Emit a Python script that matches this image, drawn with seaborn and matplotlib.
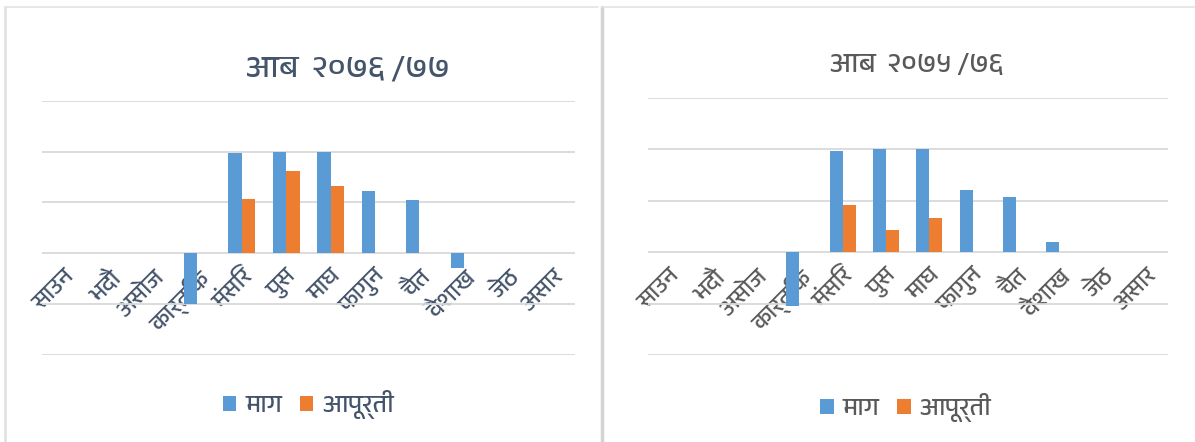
"""Monthly demand vs supply (माग / आपूर्ती) for two fiscal years, side by side."""

import numpy as np
import pandas as pd
import seaborn as sns
import matplotlib.pyplot as plt
from matplotlib import font_manager
from matplotlib.lines import Line2D
from fontTools.ttLib import TTFont

###################################################################################################
###################################################################################################

months = ['साउन', 'भदौ', 'असोज', 'कार्तिक', 'मंसिर', 'पुस',
          'माघ', 'फागुन', 'चैत', 'वैशाख', 'जेठ', 'असार']
series_names = ['माग', 'आपूर्ती']

title_7677 = 'आब  २०७६ /७७'
demand_7677 = [np.nan, np.nan, np.nan, -1.0, 1.97, 2.0, 2.0, 1.23, 1.05, -0.29, np.nan, np.nan]
supply_7677 = [np.nan, np.nan, np.nan, np.nan, 1.07, 1.61, 1.33, np.nan, np.nan, np.nan, np.nan, np.nan]

title_7576 = 'आब  २०७५ /७६'
demand_7576 = [np.nan, np.nan, np.nan, -1.05, 1.98, 2.0, 2.0, 1.22, 1.08, 0.19, np.nan, np.nan]
supply_7576 = [np.nan, np.nan, np.nan, np.nan, 0.92, 0.43, 0.66, np.nan, np.nan, np.nan, np.nan, np.nan]

grid_levels = [-2, -1, 0, 1, 2, 3]

BLUE = '#5B9BD5'
ORANGE = '#ED7D31'


def find_devanagari_font():
    """Return the name of an installed font that has Devanagari glyphs, if any."""

    fonts = sorted(font_manager.fontManager.ttflist, key=lambda f: 'Devanagari' not in f.name)
    for f in fonts:
        try:
            cmap = TTFont(f.fname, fontNumber=0, lazy=True).getBestCmap()
        except Exception:
            continue
        if cmap and 0x0906 in cmap and 0x0915 in cmap:
            return f.name
    return None


def plot_panel(ax, demand, supply, text_color):
    """Draw one grouped bar panel in the Excel-like style."""

    df = pd.DataFrame({'month': months * 2,
                       'series': [series_names[0]] * 12 + [series_names[1]] * 12,
                       'value': demand + supply})

    sns.barplot(data=df, x='month', y='value', hue='series', order=months,
                hue_order=series_names, palette=[BLUE, ORANGE], width=0.6,
                saturation=1, linewidth=0, ax=ax, zorder=3)

    ax.set_ylim(grid_levels[0], grid_levels[-1])
    ax.set_xlim(-0.5, len(months) - 0.5)
    ax.set_yticks(grid_levels)
    ax.grid(axis='y', color='#D9D9D9', linewidth=1.3, zorder=0)
    ax.set_axisbelow(True)
    ax.tick_params(axis='y', left=False, labelleft=False)

    # Category labels sit on the zero line, as in the original chart
    for side in ['top', 'right', 'left']:
        ax.spines[side].set_visible(False)
    ax.spines['bottom'].set_position(('data', 0))
    ax.spines['bottom'].set_visible(False)
    ax.tick_params(axis='x', bottom=False, pad=3)
    ax.set_xticks(range(len(months)))
    ax.set_xticklabels(months, rotation=45, ha='right', rotation_mode='anchor',
                       fontsize=17, color=text_color)

    ax.set_xlabel('')
    ax.set_ylabel('')

    handles, labels = ax.get_legend_handles_labels()
    ax.get_legend().remove()
    return handles, labels


sns.set_theme(style='white')
deva_font = find_devanagari_font()
plt.rcParams['font.family'] = ([deva_font] if deva_font else []) + ['DejaVu Sans']

fig = plt.figure(figsize=(11.95, 4.42), dpi=100)
ax1 = fig.add_axes([0.0351, 0.197, 0.446, 0.575])
ax2 = fig.add_axes([0.542, 0.197, 0.435, 0.581])

h1, l1 = plot_panel(ax1, demand_7677, supply_7677, '#44546A')
h2, l2 = plot_panel(ax2, demand_7576, supply_7576, '#595959')

# Titles
fig.text(0.291, 0.846, title_7677, fontsize=23, color='#44546A', ha='center', va='center')
fig.text(0.767, 0.853, title_7576, fontsize=20, color='#595959', ha='center', va='center')

legend_style = dict(loc='center', ncol=2, frameon=False, fontsize=18, handlelength=0.55,
                    handleheight=0.55, columnspacing=0.7, handletextpad=0.35)
fig.legend(h1, l1, bbox_to_anchor=(0.258, 0.084), labelcolor='#44546A', **legend_style)
fig.legend(h2, l2, bbox_to_anchor=(0.758, 0.077), labelcolor='#595959', **legend_style)

# Chart frames
fig.add_artist(Line2D([0.0046, 0.0046], [0, 0.985], color='#E3E3E3', linewidth=2))
fig.add_artist(Line2D([0.0046, 0.5], [0.985, 0.985], color='#E3E3E3', linewidth=1.2))
fig.add_artist(Line2D([0.5035, 0.5035], [0, 0.985], color='#D4D4D4', linewidth=2.5))
fig.add_artist(Line2D([0.5035, 1], [0.985, 0.985], color='#E3E3E3', linewidth=1.2))

fig.savefig('out.png', dpi=100, facecolor='white')
